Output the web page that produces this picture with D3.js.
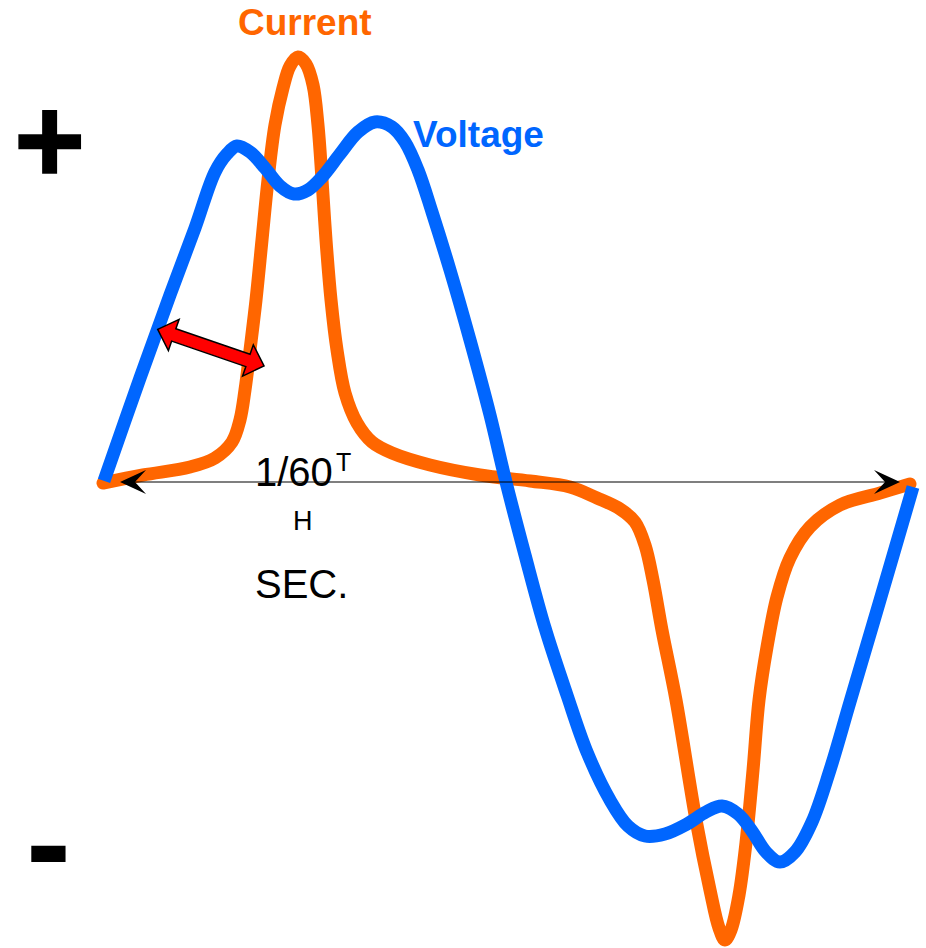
<!DOCTYPE html>
<html>
<head>
<meta charset="utf-8">
<script src="https://cdn.jsdelivr.net/npm/d3@7"></script>
<style>
  html, body { margin: 0; padding: 0; background: #fff; }
  svg { display: block; }
</style>
</head>
<body>
<svg id="chart" width="926" height="948"></svg>
<script>
// ---- Data (time in % of one 1/60 s cycle, amplitude in relative units) ----
const voltageT = [0.12, 4.57, 8.27, 11.36, 13.83, 15.31, 16.54, 18.15, 20.00, 21.85, 23.58, 25.31, 27.04, 29.26, 31.48, 33.58, 35.68, 37.28, 38.89, 40.62, 42.84, 45.31, 47.78, 49.63, 52.10, 54.57, 57.28, 59.75, 62.59, 64.81, 66.91, 69.38, 72.10, 74.44, 76.42, 78.40, 80.12, 81.85, 83.58, 85.43, 87.53, 89.75, 92.22, 95.93, 100];
const voltageV = [0.24, 24.47, 44.00, 59.76, 72.94, 77.18, 79.06, 77.65, 73.88, 69.65, 67.76, 68.71, 71.76, 77.18, 82.35, 84.71, 83.53, 80.00, 73.41, 63.53, 49.88, 33.41, 15.76, 0.94, -17.18, -34.35, -50.12, -63.53, -74.82, -80.94, -83.29, -82.82, -80.47, -77.65, -76.24, -78.12, -82.12, -87.06, -89.41, -87.06, -80.00, -67.76, -51.76, -27.76, -1.18];

const currentT = [0, 4.94, 10.74, 13.83, 15.93, 16.91, 17.53, 18.15, 18.89, 19.63, 20.37, 21.23, 22.22, 23.09, 24.07, 25.06, 25.93, 26.54, 27.04, 27.53, 28.15, 28.89, 29.88, 31.36, 33.21, 35.68, 40.37, 46.54, 52.72, 57.65, 60.99, 63.83, 65.68, 66.91, 67.90, 69.01, 70.74, 73.21, 74.94, 76.05, 76.79, 77.53, 78.52, 79.38, 80.25, 80.99, 81.98, 83.21, 84.81, 87.28, 90.99, 95.93, 99.63];
const currentV = [-0.24, 1.65, 3.53, 5.65, 9.41, 14.59, 21.65, 31.06, 42.82, 56.94, 71.06, 84.00, 92.71, 97.88, 100.00, 98.35, 93.41, 84.00, 71.06, 56.94, 42.82, 31.06, 20.94, 13.88, 9.41, 6.82, 4.00, 1.65, 0.24, -1.18, -3.76, -6.35, -9.41, -14.82, -23.06, -34.82, -51.29, -79.53, -96.0, -104.94, -107.76, -105.41, -97.18, -84.94, -67.76, -51.29, -38.82, -27.06, -17.88, -10.59, -5.41, -2.59, -0.47];

const seriesNames = ["Current", "Voltage"];
const periodLabel = ["1/60", "T", "H", "SEC."];
const signLabels = ["+", "-"];
// annotation arrows (data units)
const periodArrowT = [2.1, 98.4];
const lagArrowT = [6.75, 19.88];
const lagArrowV = [35.9, 27.3];

// ---- Scales ----
const svg = d3.select("#chart");
const x = d3.scaleLinear().domain([0, 100]).range([103, 913]);
const y = d3.scaleLinear().domain([-100, 100]).range([907, 57]);

const ORANGE = "#ff6600", BLUE = "#0066ff";

const line = d3.line()
  .x(d => x(d[0])).y(d => y(d[1]))
  .curve(d3.curveCatmullRom.alpha(0.5));

const currentData = currentT.map((t, i) => [t, currentV[i]]);
const voltageData = voltageT.map((t, i) => [t, voltageV[i]]);

svg.append("path").datum(currentData)
  .attr("d", line).attr("fill", "none")
  .attr("stroke", ORANGE).attr("stroke-width", 13)
  .attr("stroke-linecap", "round").attr("stroke-linejoin", "round");

svg.append("path").datum(voltageData)
  .attr("d", line).attr("fill", "none")
  .attr("stroke", BLUE).attr("stroke-width", 13)
  .attr("stroke-linecap", "butt").attr("stroke-linejoin", "round");

// ---- Period arrow (black double-headed, thin) ----
const y0 = y(0);
const xa = x(periodArrowT[0]), xb = x(periodArrowT[1]);
svg.append("line")
  .attr("x1", xa + 10).attr("x2", xb - 10)
  .attr("y1", y0).attr("y2", y0)
  .attr("stroke", "#000").attr("stroke-width", 1.2);

function stealth(tipX, tipY, dir) {
  const L = 26, W = 12, N = 15;
  return `M${tipX},${tipY} L${tipX - dir * L},${tipY - W} L${tipX - dir * N},${tipY} L${tipX - dir * L},${tipY + W} Z`;
}
svg.append("path").attr("d", stealth(xa, y0, -1)).attr("fill", "#000");
svg.append("path").attr("d", stealth(xb, y0, 1)).attr("fill", "#000");

// ---- Red double-headed lag arrow ----
(function () {
  const p1 = [x(lagArrowT[0]), y(lagArrowV[0])];
  const p2 = [x(lagArrowT[1]), y(lagArrowV[1])];
  const dx = p2[0] - p1[0], dy = p2[1] - p1[1];
  const len = Math.hypot(dx, dy);
  const u = [dx / len, dy / len], n = [-u[1], u[0]];
  const H = 17, HW = 16.5, SW = 6.5;
  const pt = (a, b) => [p1[0] + u[0] * a + n[0] * b, p1[1] + u[1] * a + n[1] * b];
  const pts = [
    pt(0, 0), pt(H, -HW), pt(H, -SW), pt(len - H, -SW), pt(len - H, -HW),
    pt(len, 0), pt(len - H, HW), pt(len - H, SW), pt(H, SW), pt(H, HW)
  ];
  svg.append("path")
    .attr("d", "M" + pts.map(p => p.join(",")).join("L") + "Z")
    .attr("fill", "#ff0000").attr("stroke", "#000").attr("stroke-width", 1.5)
    .attr("stroke-linejoin", "miter");
})();

// ---- Text ----
const FONT = "'Liberation Sans', Arial, Helvetica, sans-serif";
svg.append("text").attr("x", 238).attr("y", 35)
  .attr("font-family", FONT).attr("font-weight", "bold").attr("font-size", 37)
  .attr("fill", ORANGE).text(seriesNames[0]);
svg.append("text").attr("x", 413).attr("y", 147)
  .attr("font-family", FONT).attr("font-weight", "bold").attr("font-size", 37)
  .attr("fill", BLUE).text(seriesNames[1]);

svg.append("text").attr("x", 255).attr("y", 486)
  .attr("font-family", FONT).attr("font-size", 40).attr("fill", "#000").text(periodLabel[0]);
svg.append("text").attr("x", 336).attr("y", 471)
  .attr("font-family", FONT).attr("font-size", 25).attr("fill", "#000").text(periodLabel[1]);
svg.append("text").attr("x", 293).attr("y", 530)
  .attr("font-family", FONT).attr("font-size", 27).attr("fill", "#000").text(periodLabel[2]);
svg.append("text").attr("x", 255).attr("y", 598)
  .attr("font-family", FONT).attr("font-size", 40).attr("fill", "#000").text(periodLabel[3]);

svg.append("text").attr("x", 49.5).attr("y", 183)
  .attr("text-anchor", "middle")
  .attr("font-family", FONT).attr("font-weight", "bold").attr("font-size", 122)
  .attr("fill", "#000").attr("stroke", "#000").attr("stroke-width", 1.5)
  .text(signLabels[0]);
svg.append("text").attr("x", 48.5).attr("y", 889)
  .attr("text-anchor", "middle")
  .attr("font-family", FONT).attr("font-weight", "bold").attr("font-size", 135)
  .attr("fill", "#000").text(signLabels[1]);
</script>
</body>
</html>
